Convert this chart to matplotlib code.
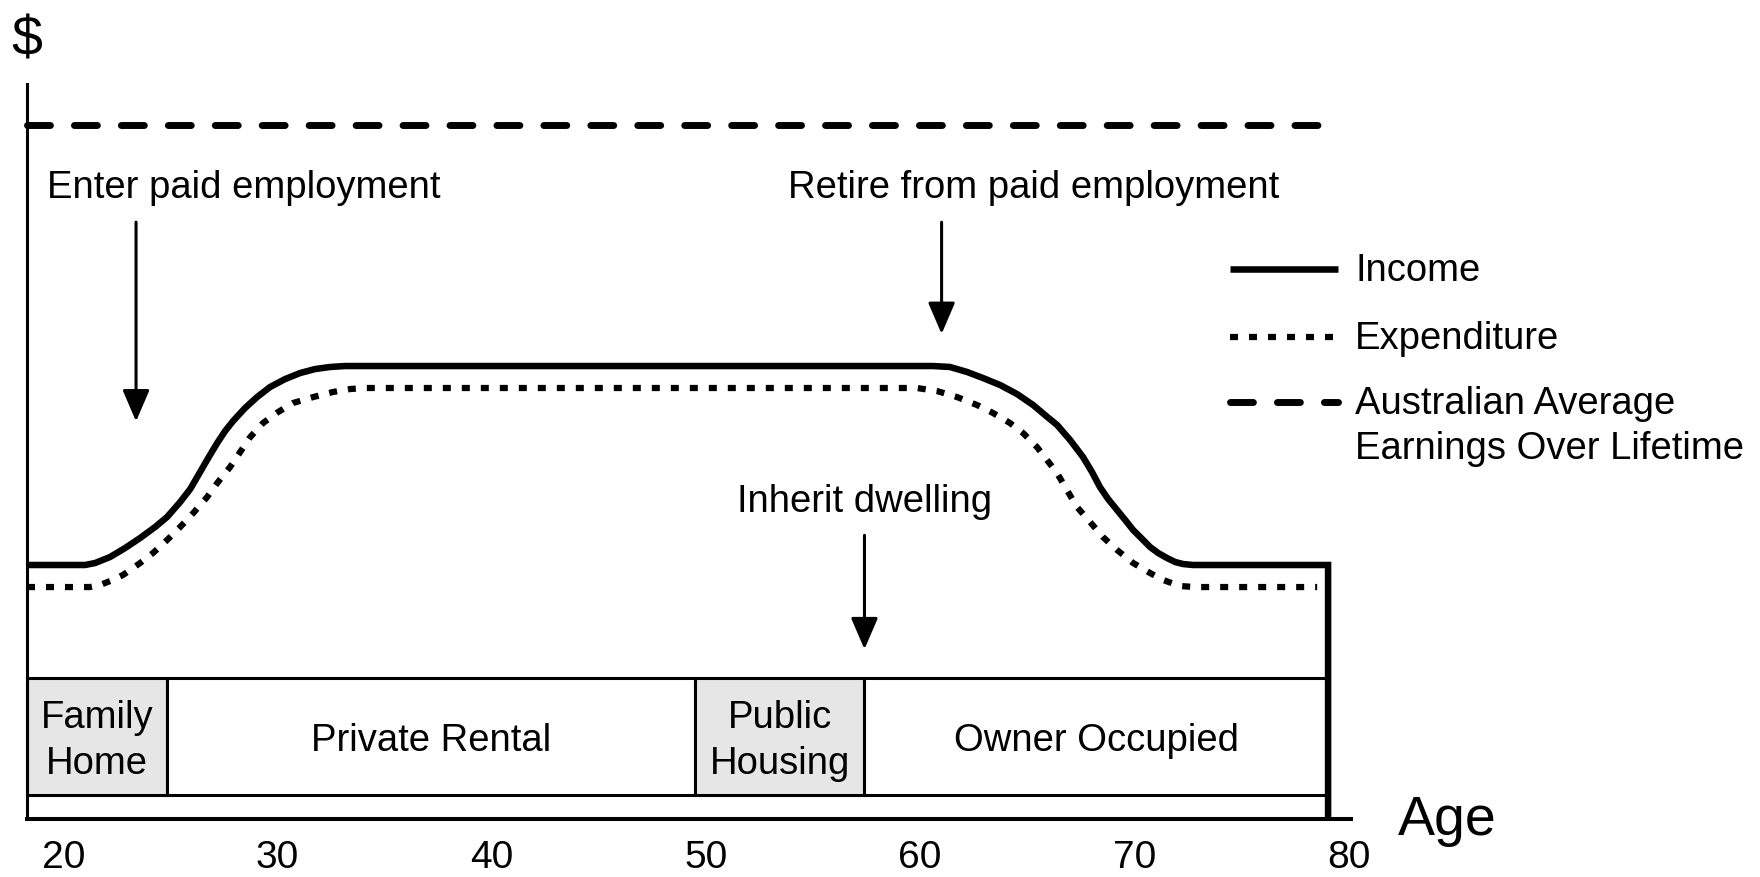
import matplotlib
matplotlib.use("Agg")
import matplotlib.pyplot as plt
from matplotlib.patches import Rectangle

plt.rcParams['font.family'] = ['Liberation Sans', 'DejaVu Sans']

# ages (x) and dollar level (y, arbitrary units, y-axis top = 100)
income_age = [18.31, 21.02, 21.49, 22.19, 22.89, 23.59, 24.29, 24.85, 25.46, 25.93, 26.39, 26.77,
              27.19, 27.56, 27.93, 28.49, 29.05, 29.66, 30.36, 31.06, 31.76, 32.46, 33.16,
              60.60, 61.39, 62.19, 62.93, 63.73, 64.52, 65.27, 65.88, 66.39, 67.00, 67.60, 68.02,
              68.39, 68.77, 69.19, 69.57, 69.94, 70.36, 70.73, 71.11, 71.52, 71.90, 72.27, 72.74,
              79.04, 79.04]
income_val = [34.56, 34.56, 34.83, 35.65, 36.87, 38.23, 39.73, 41.09, 43.13, 44.90, 47.21, 49.12,
              51.16, 52.79, 54.15, 55.92, 57.41, 58.78, 59.86, 60.68, 61.22, 61.50, 61.63,
              61.63, 61.50, 60.82, 60.00, 59.05, 57.82, 56.33, 54.83, 53.61, 51.56, 49.25, 47.21,
              45.17, 43.54, 42.04, 40.68, 39.32, 38.10, 37.01, 36.19, 35.51, 34.97, 34.69, 34.56,
              34.56, 0.0]

expend_age = [18.31, 21.25, 21.72, 22.19, 22.79, 23.59, 24.19, 24.85, 25.46, 26.07, 26.72, 27.19,
              27.79, 28.26, 28.73, 29.33, 30.03, 30.73, 31.67, 32.60, 33.39, 34.09,
              59.85, 60.78, 61.72, 62.65, 63.40, 64.19, 64.80, 65.45, 65.92, 66.39, 66.85, 67.32,
              67.93, 68.53, 69.19, 69.94, 70.73, 71.34, 72.13, 72.83, 78.53]
expend_val = [31.56, 31.56, 31.84, 32.38, 33.20, 34.83, 36.19, 37.96, 39.73, 41.63, 43.81, 45.71,
              47.89, 49.93, 51.97, 53.88, 55.37, 56.60, 57.41, 58.10, 58.50, 58.64,
              58.64, 58.23, 57.41, 56.33, 55.24, 53.88, 52.52, 50.61, 48.84, 47.07, 44.76, 42.45,
              40.41, 38.37, 36.60, 34.83, 33.47, 32.52, 31.70, 31.56, 31.56]

avg_age = [18.31, 79.2]
avg_val = [94.4, 94.4]

series_labels = ['Income', 'Expenditure', 'Australian Average\nEarnings Over Lifetime']
legend_y = [74.5, 65.3, 56.4]
legend_key_x = [74.44, 79.5]
legend_text_x = 80.3
legend_line_pitch = 6.12

# housing tenure bands along the bottom
tenure_labels = ['Family\nHome', 'Private Rental', 'Public\nHousing', 'Owner Occupied']
tenure_start = [18.31, 24.85, 49.5, 57.4]
tenure_end = [24.85, 49.5, 57.4, 79.04]
tenure_shaded = [True, False, True, False]
band_low, band_high = 3.3, 19.2
band_text_y = 10.65

# life events: label, text position, arrow age, arrow top, arrow tip
event_labels = ['Enter paid employment', 'Retire from paid employment', 'Inherit dwelling']
event_text_age = [28.44, 65.3, 57.4]
event_text_y = [84.5, 84.5, 41.8]
event_arrow_age = [23.4, 61.0, 57.4]
event_arrow_top = [81.2, 81.2, 38.6]
event_arrow_tip = [54.1, 66.0, 23.1]

age_ticks = [20, 30, 40, 50, 60, 70, 80]

fig = plt.figure(figsize=(17.6, 8.77), dpi=100)
ax = fig.add_axes([0, 0, 1, 1])
ax.set_xlim(17.05, 99.2)
ax.set_ylim(-7.89, 111.43)

for s in ['top', 'right']:
    ax.spines[s].set_visible(False)
ax.spines['left'].set_position(('data', 18.31))
ax.spines['left'].set_bounds(0, 100)
ax.spines['left'].set_linewidth(2.2)
ax.spines['bottom'].set_position(('data', 0))
ax.spines['bottom'].set_bounds(18.31, 80.1)
ax.spines['bottom'].set_linewidth(2.9)
ax.set_yticks([])
ax.set_xticks(age_ticks)
ax.set_xticklabels([str(a) for a in age_ticks])
ax.tick_params(axis='x', length=0, pad=15, labelsize=28)
ax.patch.set_visible(False)

# tenure boxes
for lab, x0, x1, sh in zip(tenure_labels, tenure_start, tenure_end, tenure_shaded):
    ax.add_patch(Rectangle((x0, band_low), x1 - x0, band_high - band_low,
                           facecolor='#e6e6e6' if sh else 'white',
                           edgecolor='black', lw=2.2, zorder=2))
    ax.text((x0 + x1) / 2, band_text_y, lab, ha='center', va='center',
            fontsize=27.5, linespacing=1.36, zorder=3)

styles = [dict(lw=4.7, solid_joinstyle='miter', solid_capstyle='butt'),
          dict(lw=4.5, dashes=(1.28, 1.76), dash_capstyle='butt'),
          dict(lw=5, dashes=(3.3, 3.46), dash_capstyle='round')]

ax.plot(income_age, income_val, color='black', zorder=4, **styles[0])
ax.plot(expend_age, expend_val, color='black', zorder=4, **styles[1])
ax.plot(avg_age, avg_val, color='black', zorder=4, **styles[2])

# legend keys and labels
for lab, ly, st in zip(series_labels, legend_y, styles):
    ax.plot(legend_key_x, [ly + 0.3, ly + 0.3], color='black', **st)
    for i, line in enumerate(lab.split('\n')):
        ax.text(legend_text_x, ly - i * legend_line_pitch, line, ha='left', va='center',
                fontsize=27.5)

for lab, tx, ty, ax_x, a_top, a_tip in zip(event_labels, event_text_age, event_text_y,
                                           event_arrow_age, event_arrow_top, event_arrow_tip):
    ax.text(tx, ty, lab, ha='center', va='baseline', fontsize=27.5)
    ax.annotate('', xy=(ax_x, a_tip), xytext=(ax_x, a_top),
                arrowprops=dict(arrowstyle='-|>,head_length=1.0,head_width=0.43',
                                mutation_scale=19.4, color='black', lw=2.2,
                                shrinkA=0, shrinkB=0))

ax.text(18.31, 103.9, '$', ha='center', va='baseline', fontsize=40)
ax.text(84.6, -2.18, 'Age', ha='center', va='baseline', fontsize=40)

fig.savefig('out.png', dpi=100)
